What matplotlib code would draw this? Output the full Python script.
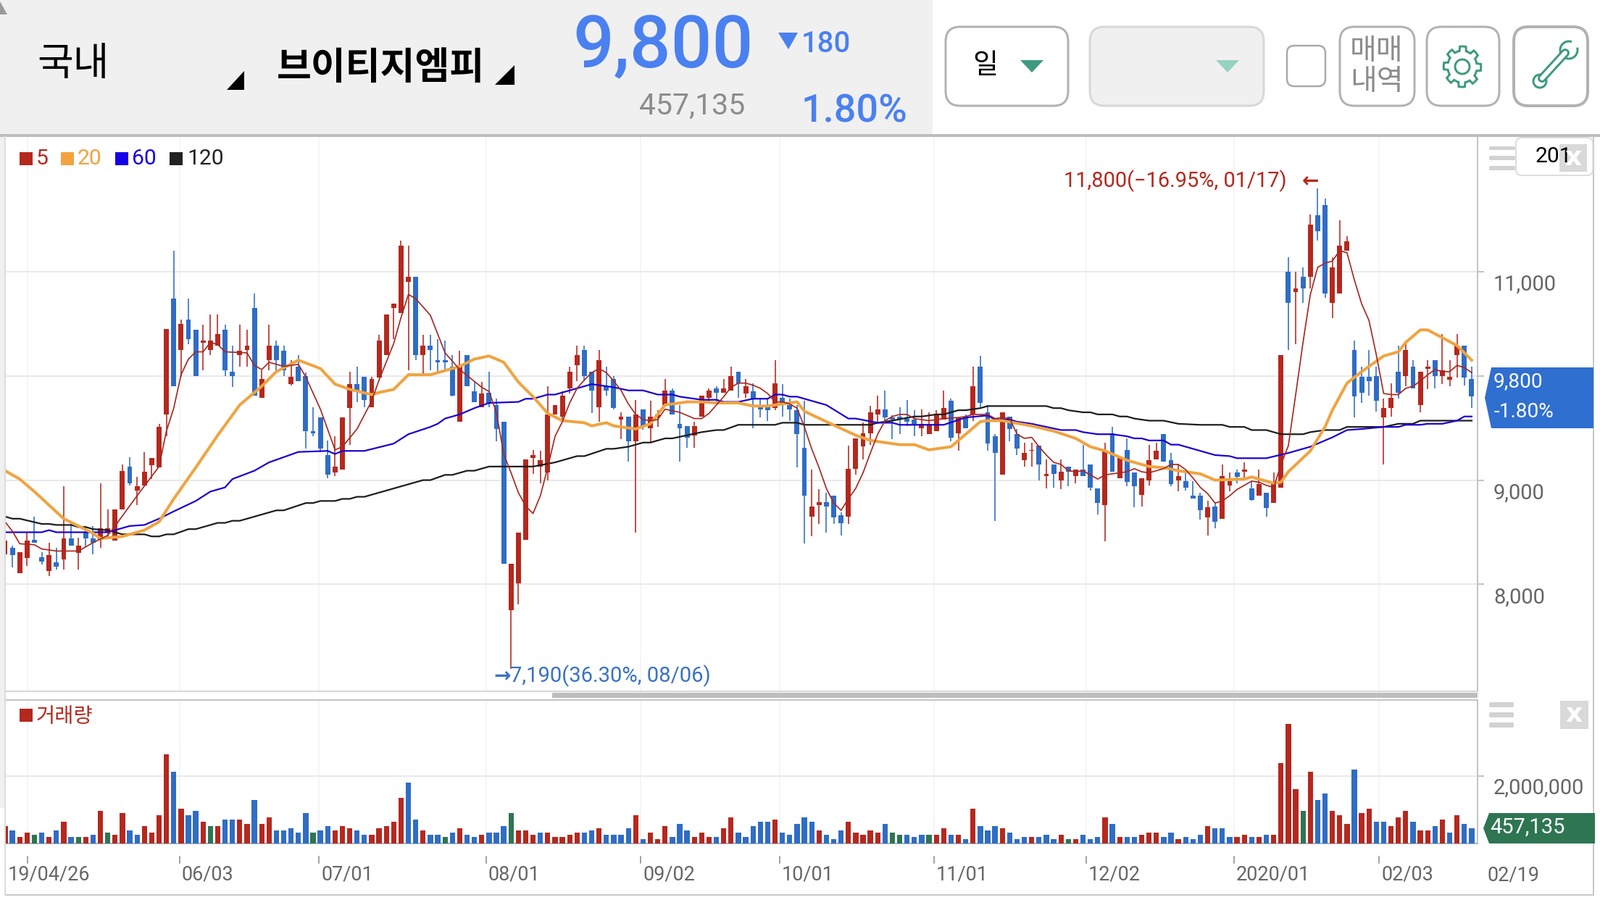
import numpy as np
import matplotlib
matplotlib.use("Agg")
import matplotlib.pyplot as plt
from matplotlib.patches import FancyBboxPatch, Polygon, Rectangle, Circle

W, H = 2208, 1242

# candle bodies and wicks, price in won
body_top = [
    8420, 8350, 8310, 8420, 8430, 8260, 8280, 8210, 8440, 8440,
    8370, 8500, 8440, 8540, 8540, 8720, 9090, 9130, 8940, 9080,
    9210, 9510, 10450, 10740, 10500, 10540, 10440, 10340, 10340, 10400,
    10440, 10040, 10240, 10290, 10650, 9970, 10290, 10290, 10240, 9990,
    10090, 10000, 9470, 9600, 9240, 9130, 9600, 9920, 9920, 9990,
    9970, 10340, 10590, 10690, 11250, 10950, 10950, 10290, 10290, 10150,
    10150, 10090, 10090, 10200, 9850, 9830, 9840, 9720, 9560, 8200,
    8500, 9200, 9240, 9190, 9630, 9720, 9810, 10040, 10200, 10250,
    10040, 10150, 9900, 9970, 9610, 9610, 9630, 9680, 9610, 9630,
    9860, 9860, 9540, 9520, 9520, 9810, 9860, 9880, 9880, 10000,
    10040, 9900, 9850, 9710, 9700, 9930, 9790, 9720, 9670, 9310,
    8750, 8790, 8790, 8850, 8660, 9110, 9400, 9450, 9650, 9680,
    9680, 9600, 9610, 9590, 9580, 9540, 9540, 9630, 9690, 9760,
    9600, 9600, 9900, 10090, 9650, 9420, 9650, 9610, 9440, 9260,
    9290, 9330, 9060, 9150, 9080, 9130, 9100, 9100, 9150, 8920,
    9290, 9450, 9210, 9290, 9070, 9020, 9190, 9280, 9440, 9190,
    9040, 8990, 8850, 8850, 8740, 8750, 9040, 8990, 9070, 9100,
    8920, 8960, 8880, 8960, 10200, 11000, 10840, 10950, 11450, 11540,
    11640, 11040, 11250, 11290, 10250, 9990, 9990, 10000, 9690, 9790,
    10040, 10250, 10090, 10040, 10090, 10150, 10050, 9990, 10290, 10290,
    9970,
]
body_bot = [
    8290, 8280, 8110, 8250, 8400, 8220, 8130, 8170, 8240, 8370,
    8300, 8440, 8400, 8430, 8500, 8420, 8720, 8970, 8900, 8950,
    9140, 9120, 9630, 9900, 10250, 10350, 10000, 10320, 10250, 10290,
    10050, 10000, 10200, 10250, 9810, 9790, 10150, 10150, 10050, 9920,
    9950, 9470, 9450, 9300, 9050, 9070, 9100, 9690, 9850, 9770,
    9700, 9980, 10200, 10650, 10600, 10900, 10200, 10200, 10250, 10130,
    10130, 9810, 9560, 9900, 9750, 9700, 9730, 9490, 8200, 7750,
    8010, 8430, 9210, 9130, 9070, 9630, 9610, 9880, 10100, 10000,
    9860, 9700, 9860, 9690, 9580, 9370, 9370, 9510, 9500, 9600,
    9720, 9630, 9500, 9410, 9430, 9610, 9790, 9840, 9840, 9860,
    9930, 9830, 9780, 9680, 9670, 9690, 9730, 9680, 9440, 8850,
    8650, 8760, 8750, 8640, 8590, 8650, 9110, 9320, 9450, 9630,
    9600, 9580, 9580, 9560, 9540, 9500, 9440, 9470, 9580, 9410,
    9450, 9500, 9630, 9740, 9350, 9260, 9050, 9490, 9300, 9190,
    9280, 9150, 9040, 9060, 9000, 9080, 9040, 9040, 8930, 8780,
    8760, 9080, 9020, 8980, 8940, 8860, 9000, 9200, 9180, 8960,
    9000, 8930, 8820, 8710, 8640, 8600, 8630, 8950, 9030, 9080,
    8810, 8850, 8730, 8780, 8930, 10700, 10800, 10840, 10950, 11390,
    10790, 10700, 10790, 11200, 9800, 9840, 9950, 9760, 9600, 9690,
    9840, 10000, 9880, 9720, 10070, 10000, 10000, 9960, 10200, 9980,
    9800,
]
highs = [
    8550, 8370, 8310, 8500, 8650, 8310, 8400, 8350, 8940, 8600,
    8450, 8560, 8560, 8970, 8720, 8720, 9150, 9220, 9030, 9270,
    9210, 9540, 10450, 11200, 10540, 10740, 10440, 10490, 10590, 10590,
    10490, 10290, 10490, 10440, 10790, 10050, 10490, 10340, 10290, 10150,
    10200, 10030, 9700, 9600, 9380, 9420, 9600, 10040, 10090, 9990,
    9990, 10390, 10590, 10690, 11300, 11250, 10950, 10390, 10390, 10350,
    10340, 10200, 10240, 10200, 9940, 9940, 10040, 9780, 9560, 8200,
    8500, 9200, 9290, 9280, 9900, 9720, 9850, 10090, 10290, 10290,
    10040, 10250, 10090, 10000, 9650, 9610, 9770, 9680, 9760, 9670,
    9970, 9880, 9720, 9520, 9560, 9810, 9880, 9900, 9970, 10090,
    10040, 9970, 9930, 9790, 9790, 10150, 9920, 9780, 9720, 9760,
    9100, 8910, 8880, 8850, 8690, 9330, 9400, 9550, 9710, 9810,
    9860, 9620, 9700, 9770, 9670, 9680, 9650, 9670, 9860, 9780,
    9600, 9630, 10090, 10190, 9720, 9440, 9650, 9610, 9490, 9360,
    9360, 9330, 9200, 9150, 9200, 9130, 9100, 9340, 9150, 8920,
    9360, 9510, 9210, 9400, 9070, 9020, 9340, 9360, 9440, 9260,
    9150, 9080, 8990, 8880, 8800, 8780, 9150, 9070, 9100, 9170,
    8990, 9100, 8880, 9070, 10200, 11140, 11000, 11040, 11550, 11800,
    11700, 11140, 11490, 11340, 10340, 10090, 10250, 10090, 9780, 9930,
    10290, 10340, 10150, 10040, 10150, 10150, 10400, 10150, 10400, 10290,
    10090,
]
lows = [
    8250, 8160, 8110, 8180, 8400, 8190, 8080, 8140, 8140, 8370,
    8140, 8360, 8290, 8350, 8440, 8420, 8720, 8950, 8760, 8950,
    9010, 9120, 9420, 9900, 9990, 10300, 10000, 10050, 10200, 10290,
    10000, 9890, 10090, 10090, 9810, 9790, 10050, 10050, 10000, 9910,
    9950, 9300, 9420, 9270, 9020, 9040, 9100, 9340, 9750, 9700,
    9700, 9980, 10200, 10350, 10600, 10050, 10150, 10000, 10050, 10040,
    10040, 9800, 9560, 9900, 9750, 9700, 9700, 9370, 8200, 7190,
    7810, 8430, 9060, 8970, 9000, 9630, 9580, 9830, 9950, 9950,
    9640, 9560, 9810, 9680, 9390, 9180, 8500, 9480, 9360, 9510,
    9720, 9630, 9180, 9310, 9310, 9610, 9750, 9740, 9840, 9860,
    9790, 9790, 9500, 9600, 9570, 9670, 9610, 9570, 9120, 8390,
    8460, 8580, 8500, 8580, 8470, 8580, 9050, 9200, 9340, 9560,
    9560, 9390, 9440, 9520, 9420, 9420, 9440, 9470, 9580, 9370,
    9280, 9500, 9570, 9700, 9280, 8610, 9050, 9370, 9240, 9130,
    9130, 9000, 8920, 8930, 8910, 8940, 8970, 9040, 8900, 8670,
    8410, 9080, 9020, 8940, 8740, 8750, 8950, 9200, 9180, 8940,
    8890, 8900, 8820, 8620, 8470, 8540, 8630, 8890, 8970, 9010,
    8800, 8850, 8650, 8780, 8930, 10250, 10300, 10700, 10840, 11300,
    10750, 10550, 10790, 11200, 9600, 9740, 9810, 9660, 9150, 9610,
    9780, 9900, 9880, 9650, 9870, 9880, 9920, 9900, 9980, 9910,
    9690,
]
candle_dir = (
    "RBRRBBRBRB" "RBBRRRRBRR" "RRRBRBBRRR" "BBRRBRRBBR" "BBBBBRRRBB"
    "RRRRRRBRBB" "BBRBBRBBBR" "RRRRRRRRRB" "BRBBRBRBRR" "RBBBRRRBRR"
    "BRBBBRBBBB" "RRBBBRRRRR" "BBBBBRRRRB" "RBRBBBRBBR" "RBRBRBRBBB"
    "RBRBBRRRBB" "RBBBRBRRBR" "BRBRRBRBRB" "BRRRBBBBRR" "BRBRRBRRRB" "B"
)

# volume in thousands of shares
volume = [
    518, 388, 194, 324, 259, 324, 194, 388, 647, 194,
    194, 194, 259, 971, 324, 259, 906, 388, 259, 518,
    324, 841, 2653, 2135, 1035, 841, 971, 647, 518, 518,
    712, 712, 712, 582, 1294, 582, 777, 388, 388, 453,
    324, 906, 324, 388, 518, 388, 518, 453, 388, 259,
    259, 453, 518, 647, 1359, 1812, 712, 388, 259, 259,
    194, 324, 453, 259, 194, 259, 324, 324, 518, 906,
    388, 388, 259, 324, 324, 194, 194, 259, 324, 324,
    388, 453, 259, 259, 259, 453, 841, 129, 324, 129,
    518, 194, 582, 388, 194, 324, 194, 194, 453, 777,
    324, 194, 518, 647, 647, 712, 324, 259, 582, 777,
    647, 388, 259, 129, 388, 647, 324, 259, 388, 324,
    582, 324, 259, 259, 194, 259, 259, 259, 453, 259,
    259, 129, 1035, 518, 388, 518, 453, 324, 129, 194,
    194, 194, 259, 129, 259, 129, 129, 259, 129, 194,
    777, 582, 194, 194, 194, 259, 324, 324, 194, 324,
    129, 194, 129, 259, 518, 453, 453, 194, 194, 259,
    194, 194, 259, 259, 2394, 3559, 1618, 971, 2135, 1294,
    1488, 971, 841, 582, 2200, 906, 1035, 647, 647, 518,
    777, 971, 647, 388, 388, 518, 712, 324, 841, 582,
    457.135,
]
volume_dir = (
    "RBRRGBRBRB" "GRBRGRRBBR" "RRRBRBBRGR" "BBRRBRRBBB" "BBGBBRRRBB"
    "RRRRRBBRBB" "GBRBBRBBBG" "RRRBRRRRRB" "BRBBBBRBRR" "RBBBRRRBRR"
    "BBBBBRBBBB" "BRBBBRRRRR" "BGGBBBGRRB" "RBRBBBRBBB" "RBBBRGRBBB"
    "RBRBBRRRBB" "RBBBRBBBRR" "BRBRRRRGRB" "BRRRBRRBBR" "RRBRRBRBRB" "B"
)

ma5_x = [0, 1, 2, 4, 5, 7, 10, 12, 14, 15, 18, 21, 22, 23, 24, 25, 26, 27, 28, 29,
         30, 33, 34, 35, 36, 38, 40, 41, 43, 45, 46, 48, 50, 51, 53, 54, 55, 56, 58, 60,
         62, 65, 66, 67, 68, 69, 70, 71, 72, 73, 74, 75, 76, 77, 78, 79, 80, 81, 82, 83,
         84, 85, 86, 87, 88, 89, 90, 92, 94, 95, 96, 97, 98, 99, 100, 101, 102, 103, 104, 105,
         106, 107, 108, 109, 110, 111, 112, 113, 114, 115, 116, 117, 118, 119, 120, 121, 122, 123, 124, 126,
         128, 130, 131, 132, 133, 134, 135, 136, 137, 138, 139, 140, 141, 142, 143, 144, 145, 146, 147, 148,
         149, 150, 152, 153, 154, 155, 156, 157, 158, 159, 160, 161, 162, 163, 164, 165, 166, 167, 168, 169,
         170, 171, 172, 173, 174, 175, 176, 177, 178, 179, 180, 181, 182, 183, 184, 185, 186, 187, 188, 189,
         190, 191, 192, 193, 194, 195, 196, 197, 198, 199, 200]
ma5_y = [8600, 8510, 8390, 8380, 8340, 8320, 8320, 8400, 8470, 8560, 8850, 9130, 9470, 9690, 10010, 10160, 10230, 10230, 10320, 10300,
         10230, 10220, 10100, 10060, 10130, 10090, 10110, 9990, 9680, 9290, 9320, 9490, 9760, 9960, 10310, 10560, 10780, 10740, 10580, 10220,
         10060, 9890, 9850, 9650, 9250, 9070, 8880, 8750, 8680, 8850, 9120, 9420, 9560, 9740, 9880, 9960, 10030, 10070, 10030, 9950,
         9860, 9730, 9630, 9580, 9570, 9580, 9680, 9650, 9590, 9590, 9640, 9720, 9800, 9890, 9930, 9930, 9910, 9880, 9830, 9750,
         9750, 9730, 9690, 9510, 9300, 9120, 8920, 8780, 8710, 8820, 8920, 9070, 9260, 9440, 9570, 9610, 9630, 9630, 9590, 9570,
         9590, 9600, 9610, 9630, 9630, 9630, 9590, 9600, 9590, 9440, 9400, 9410, 9320, 9240, 9170, 9150, 9090, 9080, 9090, 9050,
         9010, 9050, 9070, 9080, 9110, 9080, 9070, 9090, 9110, 9150, 9150, 9100, 9020, 8930, 8870, 8780, 8800, 8850, 8910, 8950,
         8990, 8980, 8950, 8930, 9150, 9330, 9820, 10320, 10780, 11040, 11080, 11100, 11200, 11180, 10920, 10690, 10530, 10200, 9830, 9820,
         9820, 9880, 9900, 9950, 10010, 10060, 10040, 10040, 10100, 10080, 10030]
ma20_x = [0, 2, 4, 6, 8, 10, 12, 13, 16, 19, 21, 23, 26, 29, 32, 35, 37, 40, 43, 45,
          47, 50, 51, 53, 55, 58, 62, 64, 66, 68, 70, 72, 74, 76, 79, 80, 82, 83, 86, 88,
          90, 93, 95, 97, 100, 102, 104, 108, 109, 112, 116, 118, 122, 124, 126, 129, 131, 133, 134, 136,
          140, 143, 146, 148, 150, 153, 156, 158, 160, 163, 165, 169, 170, 173, 174, 175, 178, 180, 181, 183,
          185, 188, 190, 191, 193, 194, 198, 200]
ma20_y = [9090, 9010, 8890, 8760, 8630, 8560, 8490, 8440, 8460, 8520, 8600, 8820, 9120, 9430, 9720, 9900, 10040, 10150, 10070, 9920,
          9870, 9820, 9840, 9870, 10010, 10010, 10090, 10160, 10190, 10130, 9940, 9800, 9640, 9570, 9550, 9520, 9550, 9520, 9490, 9540,
          9720, 9750, 9750, 9740, 9740, 9710, 9710, 9750, 9660, 9560, 9430, 9380, 9340, 9340, 9290, 9320, 9440, 9560, 9570, 9570,
          9520, 9470, 9400, 9320, 9280, 9190, 9130, 9120, 9090, 9060, 9000, 9010, 9030, 8970, 8980, 9080, 9280, 9510, 9670, 9930,
          10040, 10190, 10230, 10320, 10440, 10440, 10290, 10150]
ma60_x = [0, 5, 6, 7, 14, 17, 19, 21, 23, 26, 28, 30, 31, 34, 36, 38, 40, 44, 45, 46,
          49, 53, 55, 58, 59, 60, 62, 64, 66, 70, 71, 72, 74, 75, 78, 80, 81, 83, 85, 87,
          89, 91, 92, 93, 95, 97, 98, 100, 102, 104, 105, 106, 107, 108, 112, 115, 116, 119, 121, 122,
          128, 131, 134, 135, 137, 138, 140, 142, 144, 146, 147, 149, 151, 153, 154, 155, 156, 158, 159, 160,
          163, 165, 167, 168, 172, 175, 178, 179, 181, 183, 185, 188, 190, 191, 193, 194, 196, 198, 199, 200]
ma60_y = [8500, 8500, 8520, 8500, 8500, 8560, 8570, 8630, 8700, 8800, 8890, 8930, 9010, 9090, 9170, 9220, 9270, 9280, 9250, 9280,
          9280, 9350, 9440, 9510, 9540, 9590, 9630, 9690, 9740, 9750, 9780, 9780, 9820, 9820, 9880, 9920, 9910, 9890, 9860, 9860,
          9820, 9820, 9800, 9790, 9770, 9770, 9750, 9750, 9780, 9780, 9820, 9820, 9800, 9800, 9720, 9590, 9590, 9550, 9550, 9530,
          9530, 9600, 9620, 9580, 9580, 9560, 9540, 9510, 9480, 9480, 9460, 9440, 9440, 9420, 9400, 9400, 9380, 9380, 9340, 9340,
          9280, 9240, 9230, 9210, 9210, 9260, 9320, 9350, 9410, 9480, 9490, 9510, 9510, 9530, 9530, 9540, 9540, 9570, 9610, 9610]
ma120_x = [0, 1, 2, 5, 6, 7, 9, 10, 11, 12, 14, 16, 19, 20, 21, 22, 23, 25, 26, 29,
           30, 31, 32, 37, 38, 41, 42, 43, 45, 46, 47, 48, 49, 57, 58, 60, 61, 63, 64, 66,
           72, 75, 78, 79, 82, 83, 85, 87, 88, 90, 91, 95, 97, 98, 100, 105, 106, 108, 109, 118,
           119, 121, 124, 125, 127, 128, 130, 131, 133, 134, 142, 143, 144, 145, 147, 148, 149, 151, 152, 153,
           154, 156, 158, 160, 163, 166, 167, 169, 170, 172, 174, 177, 178, 180, 182, 183, 188, 190, 192, 193, 200]
ma120_y = [8650, 8630, 8630, 8580, 8580, 8570, 8570, 8550, 8550, 8530, 8520, 8480, 8480, 8460, 8460, 8480, 8480, 8530, 8530, 8590,
           8590, 8610, 8610, 8710, 8710, 8780, 8780, 8800, 8800, 8820, 8820, 8840, 8840, 9000, 9000, 9050, 9050, 9090, 9090, 9130,
           9130, 9170, 9230, 9230, 9300, 9300, 9320, 9360, 9360, 9400, 9400, 9460, 9480, 9480, 9530, 9530, 9550, 9550, 9530, 9530,
           9550, 9570, 9610, 9610, 9630, 9630, 9670, 9670, 9690, 9710, 9710, 9690, 9690, 9670, 9650, 9650, 9630, 9630, 9610, 9610,
           9590, 9570, 9570, 9540, 9530, 9530, 9510, 9510, 9480, 9480, 9440, 9440, 9460, 9480, 9480, 9510, 9510, 9540, 9540, 9570, 9570]

price_ticks = [8000, 9000, 10000, 11000]
# the 10,000 label sits behind the current price tag in the original
price_tick_labels = ["8,000", "9,000", "", "11,000"]
date_pos = [3.1, 23.8, 42.8, 65.6, 86.7, 105.6, 126.7, 147.4, 167.6, 187.4]
date_labels = ["19/04/26", "06/03", "07/01", "08/01", "09/02", "10/01", "11/01", "12/02", "2020/01", "02/03"]

RED = "#b5281e"
BLUE = "#2f6dc5"
GREEN = "#2e7552"
TEAL = "#3f9a80"
colors = {"R": RED, "B": BLUE, "G": GREEN}
PX = 0.72  # points per pixel at dpi 100
KR = "Noto Sans CJK JP"  # only the JP name is registered, it has the hangul too

plt.rcParams["font.family"] = "Roboto"


def px_axes(left, top, right, bottom):
    return fig.add_axes([left / W, 1 - bottom / H, (right - left) / W, (bottom - top) / H])


fig = plt.figure(figsize=(W / 100, H / 100), dpi=100, facecolor="white")

# price pane
ax = px_axes(7, 187, 2039, 954)
ax.set_xlim(0, 200.8)
ax.set_ylim(6975, 12304)
for spine in ["top", "bottom", "left"]:
    ax.spines[spine].set_visible(False)
ax.spines["right"].set_color("#c4c4c4")
ax.spines["right"].set_linewidth(2 * PX)
ax.set_yticks(price_ticks)
ax.set_xticks(date_pos)
ax.grid(axis="y", color="#e9e9e9", lw=2 * PX)
ax.grid(axis="x", color="#f3f3f3", lw=1.5 * PX)
ax.set_axisbelow(True)
ax.tick_params(axis="y", left=False, right=True, labelleft=False, length=9 * PX, width=2 * PX, color="#c4c4c4")
ax.tick_params(axis="x", bottom=False, labelbottom=False)

x = np.arange(len(body_top))
candle_colors = [colors[c] for c in candle_dir]
ax.vlines(x, lows, highs, colors=candle_colors, lw=1.6 * PX, zorder=2)
ax.bar(x, np.array(body_top) - np.array(body_bot), bottom=body_bot, width=0.68, color=candle_colors, zorder=3)

ax.plot(ma120_x, ma120_y, color="#1c1c1c", lw=2.2 * PX, zorder=4)
ax.plot(ma60_x, ma60_y, color="#1b00d2", lw=2.2 * PX, zorder=5)
ax.plot(ma20_x, ma20_y, color="#f0a33f", lw=4 * PX, zorder=6)
ax.plot(ma5_x, ma5_y, color="#a8271f", lw=1.7 * PX, zorder=7)

for p, lab in zip(price_ticks, price_tick_labels):
    if lab:
        ax.annotate(lab, xy=(1, p), xycoords=ax.get_yaxis_transform(), xytext=(22, -18), textcoords="offset pixels",
                    ha="left", va="center", fontsize=29 * PX, color="#666666", annotation_clip=False)

ax.annotate("11,800(\u221216.95%, 01/17)", xy=(179, 11800), xytext=(-197, 10), textcoords="offset pixels",
            ha="center", va="center", fontsize=29 * PX, color=RED, annotation_clip=False)
ax.annotate("\u2190", xy=(179, 11800), xytext=(-10, 9), textcoords="offset pixels", ha="center", va="center",
            fontsize=28 * PX, color=RED, fontweight="bold", family="DejaVu Sans", annotation_clip=False)
ax.annotate("7,190(36.30%, 08/06)", xy=(69, 7190), xytext=(-1, -10), textcoords="offset pixels",
            ha="left", va="center", fontsize=29.2 * PX, color="#3a72c4", annotation_clip=False)
ax.annotate("\u2192", xy=(69, 7190), xytext=(-12, -10), textcoords="offset pixels", ha="center", va="center",
            fontsize=28 * PX, color="#3a72c4", fontweight="bold", family="DejaVu Sans", annotation_clip=False)

# volume pane
axv = px_axes(7, 966, 2039, 1164)
axv.set_xlim(0, 200.8)
axv.set_ylim(0, 4258)
for spine in ["top", "left"]:
    axv.spines[spine].set_visible(False)
axv.spines["right"].set_color("#c4c4c4")
axv.spines["right"].set_linewidth(2 * PX)
axv.spines["bottom"].set_color("#a9b4c2")
axv.spines["bottom"].set_linewidth(2 * PX)
axv.set_yticks([2000])
axv.set_xticks(date_pos)
axv.grid(axis="y", color="#e9e9e9", lw=2 * PX)
axv.grid(axis="x", color="#f3f3f3", lw=1.5 * PX)
axv.set_axisbelow(True)
axv.tick_params(axis="y", left=False, right=True, labelleft=False, length=9 * PX, width=2 * PX, color="#c4c4c4")
axv.tick_params(axis="x", bottom=False, labelbottom=False)
axv.bar(x, volume, width=0.72, color=[colors[c] for c in volume_dir], zorder=3)

axv.annotate("2,000,000", xy=(1, 2000), xycoords=axv.get_yaxis_transform(), xytext=(22, -17), textcoords="offset pixels",
             ha="left", va="center", fontsize=29 * PX, color="#666666", annotation_clip=False)
for pos, lab in zip(date_pos, date_labels):
    dx = -28 if lab == "19/04/26" else 3
    axv.annotate(lab, xy=(pos, 0), xytext=(dx, -43), textcoords="offset pixels", ha="left", va="center",
                 fontsize=27 * PX, color="#666666", annotation_clip=False)
    axv.plot([pos, pos], [-390, -580], color="#888888", lw=1.5 * PX, clip_on=False, zorder=1)
axv.set_ylim(0, 4258)

# header, frame and the widgets around the chart, drawn in pixels
ui = fig.add_axes([0, 0, 1, 1], zorder=5, facecolor="none")
ui.set_xlim(0, W)
ui.set_ylim(H, 0)
ui.axis("off")


def box(x0, y0, x1, y1, face="white", edge="#b2b2b2", lw=3, r=20):
    ui.add_patch(FancyBboxPatch((x0, y0), x1 - x0, y1 - y0, boxstyle=f"round,pad=0,rounding_size={r}",
                                fc=face, ec=edge, lw=lw * PX))


def rect(x0, y0, x1, y1, color):
    ui.add_patch(Rectangle((x0, y0), x1 - x0, y1 - y0, fc=color, ec="none"))


def tri(points, color):
    ui.add_patch(Polygon(points, closed=True, fc=color, ec="none"))


def hamburger(x0, x1, rows):
    for y0, y1 in rows:
        ui.add_patch(FancyBboxPatch((x0, y0), x1 - x0, y1 - y0, boxstyle="round,pad=0,rounding_size=2",
                                    fc="#d2d2d2", ec="none"))


def close_box(x0, y0, x1, y1):
    rect(x0, y0, x1, y1, "#d9d9d9")
    cx, cy = (x0 + x1) / 2, (y0 + y1) / 2
    ui.text(cx, cy, "x", ha="center", va="center", fontsize=36 * PX, color="white", fontweight="bold",
            family="DejaVu Sans")


rect(0, 0, 1287, 186, "#f0f0f0")
rect(0, 187, 6, 1115, "#f0f0f0")
tri([(0, 2), (10, 20), (0, 20)], "#9a9a9a")
rect(0, 185, W, 189, "#bdbdbd")
rect(7, 953, 2039, 955, "#d5d5d5")
rect(762, 956, 2039, 963, "#bdbdbd")
rect(7, 965, 2039, 967, "#c4c4c4")
rect(7, 1234, 2199, 1236, "#c8c8c8")
rect(6, 187, 8, 1236, "#dcdcdc")
rect(2198, 187, 2200, 1236, "#c8c8c8")

ui.text(101, 89, "국내", ha="center", va="center", fontsize=54 * PX, family=KR, color="black")
tri([(337, 98), (337, 124), (313, 124)], "black")
ui.text(525, 94, "브이티지엠피", ha="center", va="center", fontsize=52 * PX, family=KR, fontweight="bold", color="black")
tri([(710, 90), (710, 117), (683, 117)], "black")
ui.text(915, 66, "9,800", ha="center", va="center", fontsize=100 * PX, color="#4a80f0", fontweight="medium")
tri([(1074, 45), (1101, 45), (1088, 68)], "#4a80f0")
ui.text(1140, 61, "180", ha="center", va="center", fontsize=40 * PX, color="#4a80f0", fontweight="medium")
ui.text(955, 146, "457,135", ha="center", va="center", fontsize=41 * PX, color="#8c8c8c")
ui.text(1179, 154, "1.80%", ha="center", va="center", fontsize=54 * PX, color="#4a80f0", fontweight="medium")

box(1305, 37, 1474, 146)
ui.text(1360, 91, "일", ha="center", va="center", fontsize=38 * PX, family=KR, color="black")
tri([(1408, 83), (1440, 83), (1424, 100)], TEAL)
box(1504, 37, 1744, 146, face="#f0f0f0", edge="#d8d8d8")
tri([(1678, 83), (1710, 83), (1694, 100)], "#96d2c0")
box(1776, 63, 1829, 119, edge="#aaaaaa", lw=2.5, r=10)
box(1849, 37, 1952, 146)
ui.text(1900, 71, "매매", ha="center", va="center", fontsize=40 * PX, family=KR, color="#8c8c8c")
ui.text(1900, 113, "내역", ha="center", va="center", fontsize=40 * PX, family=KR, color="#8c8c8c")
box(1969, 37, 2069, 146)
box(2089, 37, 2191, 146, lw=4)

# gear icon
ang = np.linspace(0, 2 * np.pi, 97)
rad = 22 + 6 * (np.cos(8 * ang) > 0)
ui.add_patch(Polygon(np.column_stack([2018 + 0.92 * rad * np.cos(ang), 92 + rad * np.sin(ang)]), closed=True,
                     fc="none", ec=TEAL, lw=3 * PX))
ui.add_patch(Circle((2018, 92), 10, fc="none", ec=TEAL, lw=3 * PX))

# wrench icon
ui.plot([2128, 2160], [108, 73], color=TEAL, lw=12 * PX, solid_capstyle="round")
ui.plot([2128, 2160], [108, 73], color="white", lw=6 * PX, solid_capstyle="round")
ui.add_patch(Circle((2125, 112), 9, fc="white", ec=TEAL, lw=3 * PX))
ui.add_patch(Circle((2165, 69), 12, fc="white", ec=TEAL, lw=3 * PX))
tri([(2165, 69), (2170, 55), (2182, 64)], "white")

# legend
for x0, col, tx, lab, tcol in [(27, RED, 50, "5", RED), (84, "#f2a33f", 107, "20", "#f2a33f"),
                               (159, "#1400e6", 182, "60", "#1400e6"), (234, "#222222", 258, "120", "#222222")]:
    rect(x0, 210, x0 + 18, 228, col)
    ui.text(tx, 219, lab, ha="left", va="center", fontsize=30 * PX, color=tcol)
rect(27, 978, 45, 996, RED)
ui.text(50, 989, "거래량", ha="left", va="center", fontsize=28.5 * PX, family=KR, color=RED)

# right hand side
hamburger(2055, 2091, [(202, 207), (215, 221), (229, 235)])
box(2092, 190, 2198, 242, edge="#dddddd", lw=2, r=8)
ui.text(2144, 216, "201", ha="center", va="center", fontsize=30 * PX, color="black")
close_box(2152, 199, 2190, 237)
hamburger(2055, 2089, [(969, 976), (983, 990), (997, 1004)])
close_box(2153, 967, 2192, 1006)

tri([(2049, 549), (2058, 507), (2199, 507), (2199, 591), (2058, 591)], "#2f6fd0")
ui.text(2061, 527, "9,800", ha="left", va="center", fontsize=28 * PX, color="white")
ui.text(2061, 569, "-1.80%", ha="left", va="center", fontsize=28 * PX, color="white")
tri([(2047, 1143), (2055, 1122), (2201, 1122), (2201, 1164), (2055, 1164)], GREEN)
ui.text(2056, 1142, "457,135", ha="left", va="center", fontsize=29 * PX, color="white")
ui.text(2052, 1208, "02/19", ha="left", va="center", fontsize=27 * PX, color="#666666")

fig.savefig("out.png", dpi=100, facecolor="white")
